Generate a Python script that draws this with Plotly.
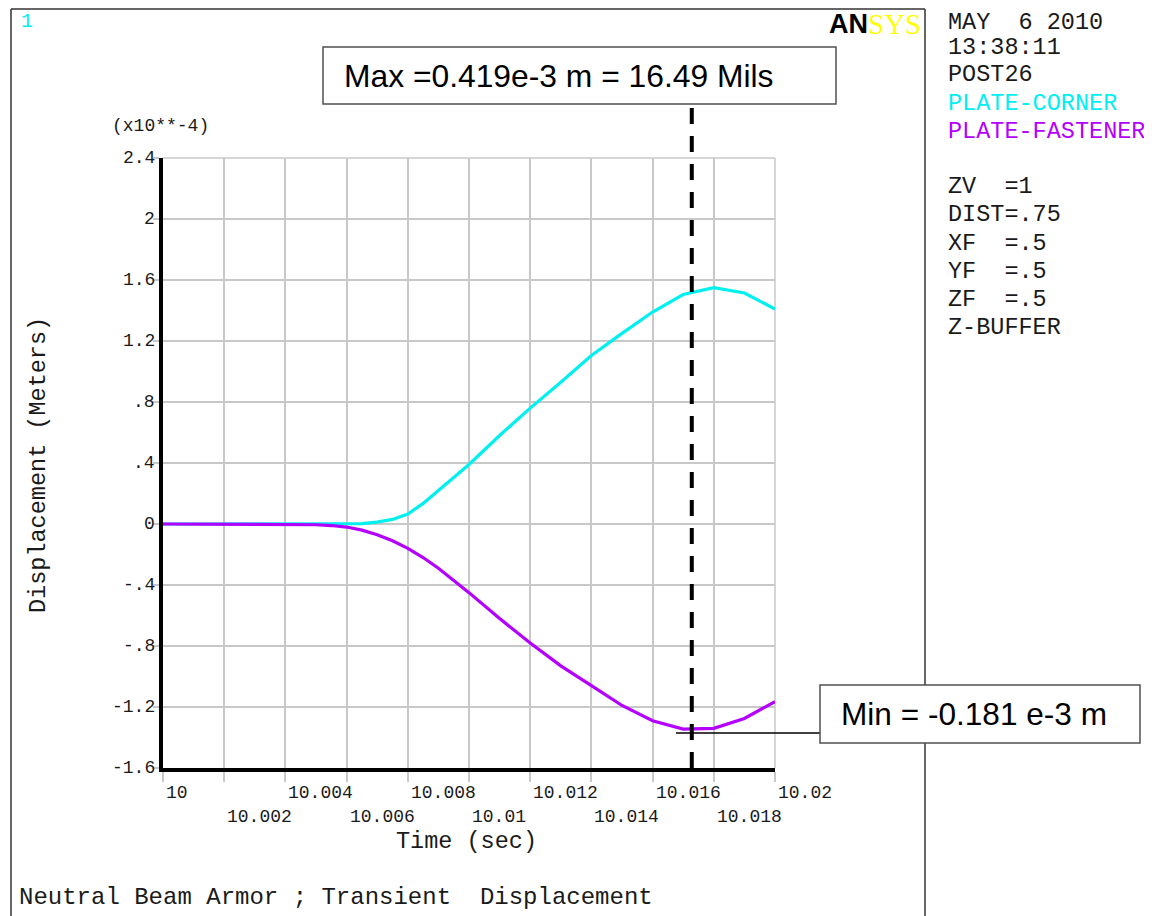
import plotly.graph_objects as go

# ---------------- data (displacement in units of 1e-4 m) ----------------
time_s = [10.000, 10.001, 10.002, 10.003, 10.004, 10.005, 10.0055, 10.006, 10.0065,
          10.007, 10.0075, 10.008, 10.0085, 10.009, 10.010, 10.011, 10.012, 10.013,
          10.014, 10.015, 10.016, 10.017, 10.018, 10.019, 10.020]
plate_corner = [0, 0, 0, 0, 0, 0, 0, 0, 0.002,
                0.012, 0.03, 0.065, 0.135, 0.22, 0.39, 0.58, 0.76, 0.93,
                1.105, 1.25, 1.39, 1.505, 1.55, 1.515, 1.41]
plate_fastener = [0, 0, 0, 0, 0, -0.005, -0.01, -0.02, -0.04,
                  -0.07, -0.11, -0.16, -0.22, -0.29, -0.45, -0.62, -0.78, -0.93,
                  -1.06, -1.19, -1.29, -1.345, -1.34, -1.275, -1.165]

x_ticks = [10.000, 10.002, 10.004, 10.006, 10.008, 10.010, 10.012, 10.014, 10.016, 10.018, 10.020]
x_tick_labels = ["10", "10.002", "10.004", "10.006", "10.008", "10.01",
                 "10.012", "10.014", "10.016", "10.018", "10.02"]
y_ticks = [-1.6, -1.2, -0.8, -0.4, 0, 0.4, 0.8, 1.2, 1.6, 2.0, 2.4]
y_tick_labels = ["-1.6", "-1.2", "-.8", "-.4", "0", ".4", ".8", "1.2", "1.6", "2", "2.4"]

max_marker_time = 10.01728
series_names = ["PLATE-CORNER", "PLATE-FASTENER"]
info_lines = ["MAY  6 2010", "13:38:11", "POST26", "PLATE-CORNER", "PLATE-FASTENER", "",
              "ZV  =1", "DIST=.75", "XF  =.5", "YF  =.5", "ZF  =.5", "Z-BUFFER"]
max_text = "Max =0.419e-3 m = 16.49 Mils"
min_text = "Min = -0.181 e-3 m"

# ---------------- styling ----------------
OFF = 8                      # page body margin of the html page
W, H = 1152 - OFF, 916 - OFF
L, R, T, B = 163, 775, 158, 768   # plot area in page pixels
CYAN = "#00f0f0"
MAGENTA = "#b400ff"
GRID = "#c8c8c8"
MONO = "Liberation Mono, Courier New, monospace"
SANS = "Liberation Sans, Arial, sans-serif"
TXT = "#1a1a1a"


def px(p):
    return (p - L) / (R - L)


def py(p):
    return (B - p) / (B - T)


def nb(s):
    return s.replace(" ", "\u00a0")


fig = go.Figure()
fig.add_trace(go.Scatter(x=time_s, y=plate_corner, mode="lines", name=series_names[0],
                         line=dict(color=CYAN, width=3.2)))
fig.add_trace(go.Scatter(x=time_s, y=plate_fastener, mode="lines", name=series_names[1],
                         line=dict(color=MAGENTA, width=3.2)))

shapes = []
frame = dict(color="#333333", width=1.5)
top_y = OFF + 1
shapes.append(dict(type="line", xref="paper", yref="paper", x0=px(11), x1=px(11), y0=py(top_y), y1=py(930), line=frame))
shapes.append(dict(type="line", xref="paper", yref="paper", x0=px(11), x1=px(925), y0=py(top_y), y1=py(top_y), line=frame))
shapes.append(dict(type="line", xref="paper", yref="paper", x0=px(925), x1=px(925), y0=py(top_y), y1=py(930), line=frame))
# top / right grid edges
shapes.append(dict(type="line", xref="paper", yref="paper", x0=0, x1=1, y0=1, y1=1,
                   line=dict(color=GRID, width=1.5), layer="below"))
shapes.append(dict(type="line", xref="paper", yref="paper", x0=1, x1=1, y0=0, y1=1,
                   line=dict(color=GRID, width=1.5), layer="below"))
# dashed max marker
shapes.append(dict(type="line", xref="x", yref="paper", x0=max_marker_time, x1=max_marker_time,
                   y0=0, y1=py(106), line=dict(color="black", width=4, dash="16px,12px")))
# min leader
shapes.append(dict(type="line", xref="paper", yref="paper", x0=px(676), x1=px(820), y0=py(733), y1=py(733),
                   line=dict(color="black", width=1.5)))
# callout boxes
shapes.append(dict(type="rect", xref="paper", yref="paper", x0=px(323), x1=px(836), y0=py(104), y1=py(47),
                   fillcolor="white", line=dict(color="#505050", width=1.5)))
shapes.append(dict(type="rect", xref="paper", yref="paper", x0=px(820), x1=px(1140), y0=py(743), y1=py(685),
                   fillcolor="white", line=dict(color="#505050", width=1.5)))

ann = []
# x tick labels (ANSYS style: left aligned at tick, two staggered rows)
for i, (v, lab) in enumerate(zip(x_ticks, x_tick_labels)):
    ann.append(dict(x=v, xref="x", y=py(793 if i % 2 == 0 else 817), yref="paper", text=lab,
                    xanchor="left", yanchor="middle", showarrow=False, xshift=1,
                    font=dict(family=MONO, size=18, color=TXT)))
# y tick labels (right aligned just left of the axis)
for v, lab in zip(y_ticks, y_tick_labels):
    ann.append(dict(x=px(157), xref="paper", y=v, yref="y", text=lab,
                    xanchor="right", yanchor="middle", showarrow=False,
                    font=dict(family=MONO, size=18, color=TXT)))
ann.append(dict(x=px(466), y=py(841), xref="paper", yref="paper", text=nb("Time (sec)"), showarrow=False,
                xanchor="center", yanchor="middle", font=dict(family=MONO, size=23.5, color=TXT)))
ann.append(dict(x=px(38), y=py(465), xref="paper", yref="paper", text=nb("Displacement (Meters)"),
                textangle=-90, showarrow=False, xanchor="center", yanchor="middle",
                font=dict(family=MONO, size=23.5, color=TXT)))
ann.append(dict(x=px(110), y=py(126), xref="paper", yref="paper", text="(x10**-4)", showarrow=False,
                xanchor="left", yanchor="middle", font=dict(family=MONO, size=18, color=TXT)))
ann.append(dict(x=px(17), y=py(897), xref="paper", yref="paper",
                text=nb("Neutral Beam Armor ; Transient  Displacement"), showarrow=False,
                xanchor="left", yanchor="middle", font=dict(family=MONO, size=24, color=TXT)))
ann.append(dict(x=px(20), y=py(21.5), xref="paper", yref="paper", text="1", showarrow=False,
                xanchor="left", yanchor="middle", borderpad=0,
                font=dict(family=MONO, size=20, color=CYAN)))
# ANSYS logo
ann.append(dict(x=px(869), y=py(24), xref="paper", yref="paper", text="<b>AN</b>", showarrow=False,
                xanchor="right", yanchor="middle", borderpad=0,
                font=dict(family=SANS, size=27, color="black")))
ann.append(dict(x=px(867), y=py(24), xref="paper", yref="paper", text="SYS", showarrow=False,
                xanchor="left", yanchor="middle", borderpad=0,
                font=dict(family="Liberation Serif, Times New Roman, serif", size=29, color="#ffff00")))
# right info column
line_colors = {"PLATE-CORNER": CYAN, "PLATE-FASTENER": MAGENTA}
for i, s in enumerate(info_lines):
    if not s:
        continue
    yc = 19 + 28 * i
    if i == 0:
        yc = 22.5
    ann.append(dict(x=px(947), y=py(yc), xref="paper", yref="paper", text=nb(s), showarrow=False,
                    xanchor="left", yanchor="middle", borderpad=0,
                    font=dict(family=MONO, size=23.5, color=line_colors.get(s, TXT))))
# callout texts
ann.append(dict(x=px(342), y=py(76), xref="paper", yref="paper", text=max_text, showarrow=False,
                xanchor="left", yanchor="middle", font=dict(family=SANS, size=31.8, color="black")))
ann.append(dict(x=px(839), y=py(714), xref="paper", yref="paper", text=min_text, showarrow=False,
                xanchor="left", yanchor="middle", font=dict(family=SANS, size=31.6, color="black")))

fig.update_layout(
    width=W, height=H,
    margin=dict(l=L - OFF, r=W - (R - OFF), t=T - OFF, b=H - (B - OFF), pad=0),
    paper_bgcolor="white", plot_bgcolor="white",
    showlegend=False,
    shapes=shapes, annotations=ann,
    xaxis=dict(range=[10.0, 10.02], tickvals=x_ticks, showticklabels=False,
               showgrid=True, gridcolor=GRID, gridwidth=1.5, zeroline=False,
               ticks="outside", ticklen=10, tickcolor=GRID, tickwidth=1.5,
               showline=True, linecolor="black", linewidth=4),
    yaxis=dict(range=[-1.6, 2.4], tickvals=y_ticks, showticklabels=False,
               showgrid=True, gridcolor=GRID, gridwidth=1.5, zeroline=False,
               ticks="outside", ticklen=6, tickcolor=GRID, tickwidth=1.5,
               showline=True, linecolor="black", linewidth=4),
)

fig.write_html("out.html")
